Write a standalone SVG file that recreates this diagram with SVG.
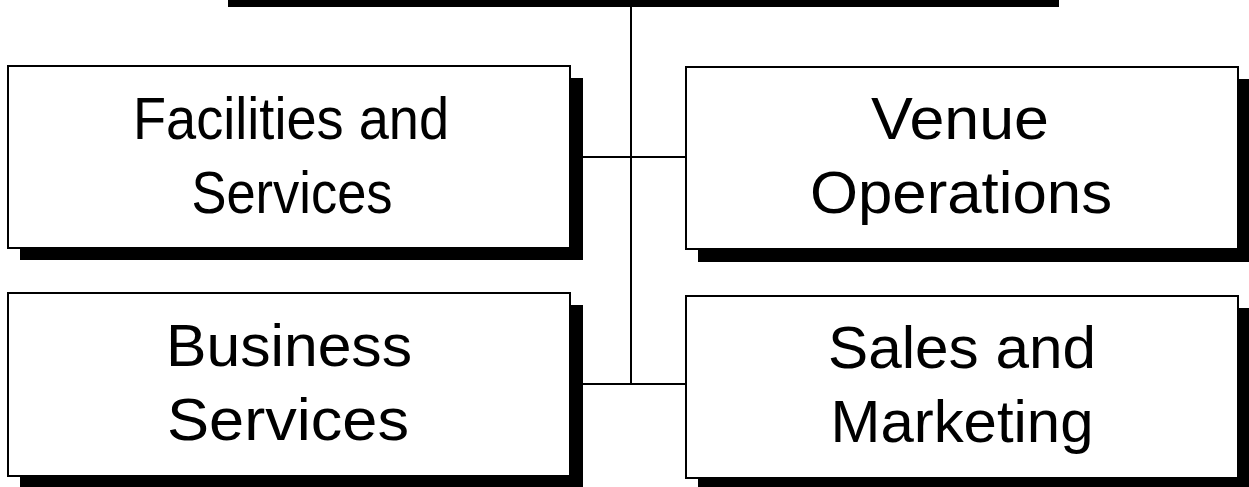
<svg xmlns="http://www.w3.org/2000/svg" width="1249" height="487" viewBox="0 0 1249 487">
<style>
.shadow{fill:#000}
.box{fill:#fff;stroke:#000;stroke-width:2}
.lbl{font-family:"Liberation Sans",Arial,sans-serif;font-size:60px;fill:#000;text-anchor:middle}
.conn{stroke:#000;stroke-width:2;fill:none}
</style>
<rect width="1249" height="487" fill="#fff"/>
<g id="connectors">
<line class="conn" x1="631" y1="0" x2="631" y2="384"/>
<line class="conn" x1="570" y1="157" x2="686" y2="157"/>
<line class="conn" x1="570" y1="384" x2="686" y2="384"/>
</g>
<g id="top">
<rect class="shadow" x="228" y="0" width="831" height="7"/>
</g>
<g id="facilities">
<rect class="shadow" x="20" y="78" width="563" height="182"/>
<rect class="box" x="8" y="66" width="562" height="182"/>
<text class="lbl" x="291" y="139" textLength="316" lengthAdjust="spacingAndGlyphs">Facilities and</text>
<text class="lbl" x="292" y="213" textLength="201" lengthAdjust="spacingAndGlyphs">Services</text>
</g>
<g id="venue">
<rect class="shadow" x="698" y="79" width="552" height="183"/>
<rect class="box" x="686" y="67" width="552" height="182"/>
<text class="lbl" x="960" y="139" textLength="178" lengthAdjust="spacingAndGlyphs">Venue</text>
<text class="lbl" x="961" y="213" textLength="302" lengthAdjust="spacingAndGlyphs">Operations</text>
</g>
<g id="business">
<rect class="shadow" x="20" y="305" width="563" height="183"/>
<rect class="box" x="8" y="293" width="562" height="183"/>
<text class="lbl" x="289" y="366" textLength="246" lengthAdjust="spacingAndGlyphs">Business</text>
<text class="lbl" x="288" y="440" textLength="242" lengthAdjust="spacingAndGlyphs">Services</text>
</g>
<g id="sales">
<rect class="shadow" x="698" y="308" width="552" height="183"/>
<rect class="box" x="686" y="296" width="552" height="182"/>
<text class="lbl" x="962" y="368" textLength="268" lengthAdjust="spacingAndGlyphs">Sales and</text>
<text class="lbl" x="962" y="442" textLength="263" lengthAdjust="spacingAndGlyphs">Marketing</text>
</g>
</svg>
